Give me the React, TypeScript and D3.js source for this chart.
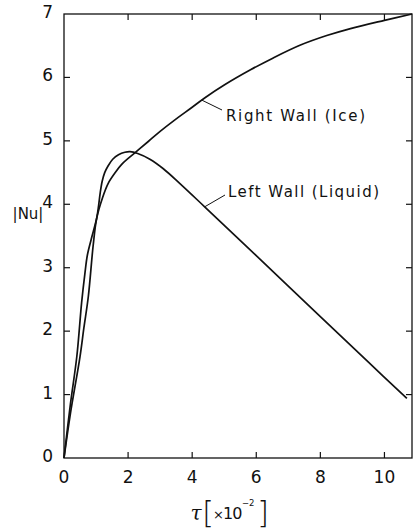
import React from "react";
import * as d3 from "d3";

const tauLeft = [0, 0.2, 0.4, 0.55, 0.65, 0.73, 0.85, 1.02, 1.08, 1.13, 1.19, 1.27, 1.37, 1.52, 1.7, 1.9, 2.06, 2.3, 2.68, 3.1, 3.61, 4.39, 6, 8, 9.5, 10.7];
const nuLeft = [0, 0.85, 1.6, 2.45, 2.9, 3.2, 3.45, 3.78, 3.98, 4.18, 4.36, 4.5, 4.6, 4.71, 4.78, 4.82, 4.83, 4.8, 4.71, 4.56, 4.33, 3.96, 3.19, 2.23, 1.51, 0.94];

const tauRight = [0, 0.2, 0.5, 0.62, 0.76, 0.91, 1.02, 1.2, 1.38, 1.6, 1.8, 2.21, 2.63, 3.0, 3.43, 4.0, 4.4, 5.0, 5.82, 6.5, 7.38, 8.2, 8.94, 10.0, 10.86];
const nuRight = [0, 0.7, 1.6, 2.05, 2.55, 3.35, 3.78, 4.1, 4.33, 4.5, 4.63, 4.81, 4.99, 5.15, 5.32, 5.53, 5.68, 5.88, 6.12, 6.3, 6.51, 6.66, 6.77, 6.9, 7.0];

const xTicks = [0, 2, 4, 6, 8, 10];
const yTicks = [0, 1, 2, 3, 4, 5, 6, 7];

const labelRight = "Right Wall (Ice)";
const labelLeft = "Left Wall (Liquid)";
const rightLeaderAt = 4.3;
const leftLeaderAt = 4.39;

export default function App() {
  const W = 418, H = 530;
  const x = d3.scaleLinear().domain([0, 10.86]).range([64, 412]);
  const y = d3.scaleLinear().domain([0, 7]).range([458, 14]);
  const line = d3
    .line<[number, number]>()
    .x((d) => x(d[0]))
    .y((d) => y(d[1]))
    .curve(d3.curveCatmullRom.alpha(0.5));
  const left: [number, number][] = tauLeft.map((t, i) => [t, nuLeft[i]]);
  const right: [number, number][] = tauRight.map((t, i) => [t, nuRight[i]]);
  const [x0, x1] = x.range();
  const [y0, y1] = y.range();
  const tl = 6;
  const font = "DejaVu Sans, sans-serif";
  const interp = (ts: number[], vs: number[], t: number) => {
    const i = d3.bisectRight(ts, t) - 1;
    const f = (t - ts[i]) / (ts[i + 1] - ts[i]);
    return vs[i] + f * (vs[i + 1] - vs[i]);
  };
  const rlx = x(rightLeaderAt), rly = y(interp(tauRight, nuRight, rightLeaderAt));
  const llx = x(leftLeaderAt), lly = y(interp(tauLeft, nuLeft, leftLeaderAt));
  return (
    <svg width={W} height={H} style={{ position: "absolute", left: 0, top: 0, background: "#fff" }}>
      <rect x={0} y={0} width={W} height={H} fill="#fff" />
      <rect x={x0} y={y1} width={x1 - x0} height={y0 - y1} fill="none" stroke="#111" strokeWidth={1.3} />
      {xTicks.filter((t) => t > 0).map((t) => (
        <g key={"xt" + t}>
          <line x1={x(t)} x2={x(t)} y1={y0} y2={y0 - tl} stroke="#111" strokeWidth={1.2} />
          <line x1={x(t)} x2={x(t)} y1={y1} y2={y1 + tl} stroke="#111" strokeWidth={1.2} />
        </g>
      ))}
      {yTicks.filter((t) => t > 0 && t < 7).map((t) => (
        <g key={"yt" + t}>
          <line x1={x0} x2={x0 + tl} y1={y(t)} y2={y(t)} stroke="#111" strokeWidth={1.2} />
          <line x1={x1} x2={x1 - tl} y1={y(t)} y2={y(t)} stroke="#111" strokeWidth={1.2} />
        </g>
      ))}
      {xTicks.map((t) => (
        <text key={"xl" + t} x={x(t)} y={477} textAnchor="middle" dominantBaseline="central" fontFamily={font} fontSize={17} fill="#111">
          {t}
        </text>
      ))}
      {yTicks.map((t) => (
        <text key={"yl" + t} x={53} y={y(t) - 2} textAnchor="end" dominantBaseline="central" fontFamily={font} fontSize={17} fill="#111">
          {t}
        </text>
      ))}
      <path d={line(left) || ""} fill="none" stroke="#111" strokeWidth={1.7} />
      <path d={line(right) || ""} fill="none" stroke="#111" strokeWidth={1.7} />
      <line x1={rlx} y1={rly} x2={222} y2={110} stroke="#111" strokeWidth={1} />
      <line x1={llx} y1={lly} x2={225} y2={195} stroke="#111" strokeWidth={1} />
      <text x={226} y={116} dominantBaseline="central" fontFamily={font} fontSize={15} fill="#111" textLength={139} lengthAdjust="spacing">
        {labelRight}
      </text>
      <text x={228} y={192} dominantBaseline="central" fontFamily={font} fontSize={15} fill="#111" textLength={151} lengthAdjust="spacing">
        {labelLeft}
      </text>
      <text x={28} y={214} textAnchor="middle" dominantBaseline="central" fontFamily={font} fontSize={15} fill="#111">
        |Nu|
      </text>
      <text x={196} y={513} textAnchor="middle" dominantBaseline="central" fontFamily="DejaVu Serif, serif" fontStyle="italic" fontSize={20} fill="#111">
        τ
      </text>
      <text x={208} y={512} textAnchor="middle" dominantBaseline="central" fontFamily={font} fontSize={30} fontWeight={200} fill="#111">
        [
      </text>
      <text x={213} y={514} dominantBaseline="central" fontFamily={font} fontSize={13} fill="#111">
        ×
      </text>
      <text x={223} y={513} dominantBaseline="central" fontFamily={font} fontSize={16} letterSpacing={-1} fill="#111">
        10
      </text>
      <text x={242} y={503} dominantBaseline="central" fontFamily={font} fontSize={8.5} fill="#111">
        −2
      </text>
      <text x={263} y={512} textAnchor="middle" dominantBaseline="central" fontFamily={font} fontSize={30} fontWeight={200} fill="#111">
        ]
      </text>
    </svg>
  );
}
